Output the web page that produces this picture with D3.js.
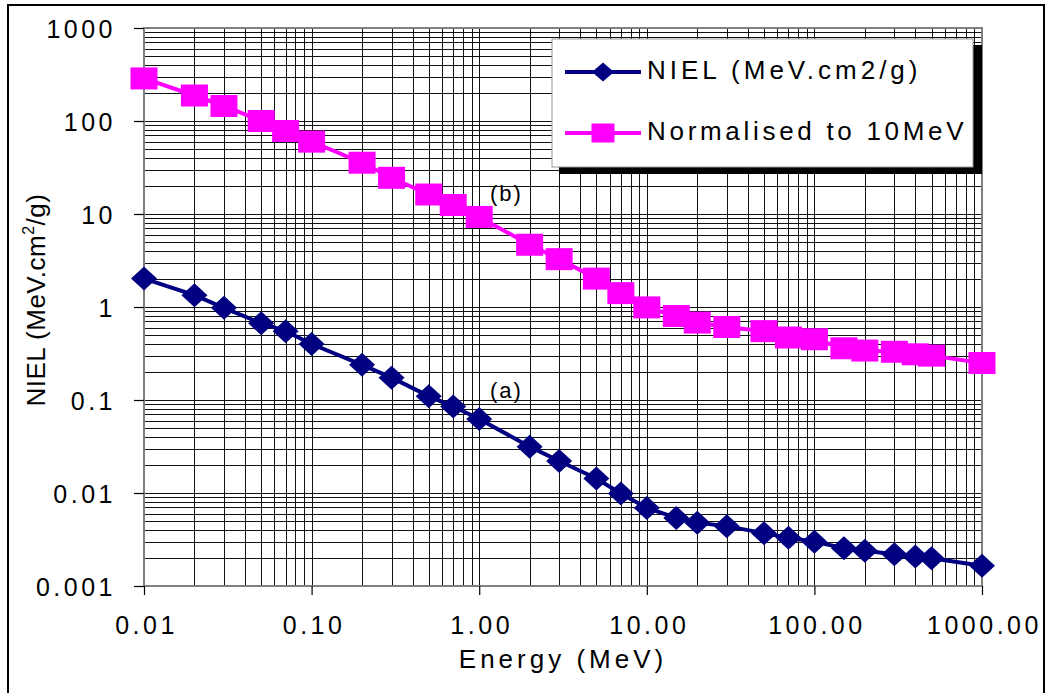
<!DOCTYPE html>
<html>
<head>
<meta charset="utf-8">
<script src="https://cdn.jsdelivr.net/npm/d3@7"></script>
<style>
  html, body { margin: 0; padding: 0; background: #fff; }
  svg { display: block; font-family: "Liberation Sans", Arial, sans-serif; }
</style>
</head>
<body>
<svg id="chart" width="1049" height="693"></svg>
<script>
// ---- data ----
const energy = [0.01, 0.02, 0.03, 0.05, 0.07, 0.1, 0.2, 0.3, 0.5, 0.7, 1, 2, 3, 5, 7, 10, 15, 20, 30, 50, 70, 100, 150, 200, 300, 400, 500, 1000];
const niel = [2.02, 1.34, 0.98, 0.67, 0.55, 0.40, 0.239, 0.174, 0.110, 0.085, 0.0625, 0.0315, 0.0221, 0.0143, 0.0099, 0.0069, 0.0054, 0.0048, 0.0044, 0.0037, 0.0033, 0.0030, 0.00255, 0.0024, 0.0022, 0.00207, 0.00199, 0.00165];
const normalised = [287, 188, 145, 100, 78, 60, 35.6, 24.5, 16.2, 12.5, 9.3, 4.67, 3.27, 2.02, 1.41, 0.99, 0.80, 0.68, 0.61, 0.55, 0.47, 0.45, 0.36, 0.34, 0.33, 0.31, 0.30, 0.25];
const seriesNames = ["NIEL (MeV.cm2/g)", "Normalised to 10MeV"];
const xTickValues = [0.01, 0.1, 1, 10, 100, 1000];
const xTickLabels = ["0.01", "0.10", "1.00", "10.00", "100.00", "1000.00"];
const yTickValues = [0.001, 0.01, 0.1, 1, 10, 100, 1000];
const yTickLabels = ["0.001", "0.01", "0.1", "1", "10", "100", "1000"];
const xTitle = "Energy (MeV)";
const curveLabels = ["(a)", "(b)"];

// ---- layout ----
const svg = d3.select("#chart");
const L = 144, R = 982, T = 28, B = 586;
const x = d3.scaleLog().domain([0.01, 1000]).range([L, R]);
const y = d3.scaleLog().domain([0.001, 1000]).range([B, T]);
const NAVY = "#000080", PINK = "#FF00FF";

// outer frame
svg.append("rect").attr("x", 8).attr("y", 5).attr("width", 1036).attr("height", 700)
  .attr("fill", "none").attr("stroke", "#000").attr("stroke-width", 2);

// grid
const minor = [];
for (let e = -2; e < 3; e++) for (let k = 2; k <= 9; k++) minor.push(k * Math.pow(10, e));
const minorY = [];
for (let e = -3; e < 3; e++) for (let k = 2; k <= 9; k++) minorY.push(k * Math.pow(10, e));
const grid = svg.append("g").attr("shape-rendering", "crispEdges");
grid.selectAll(".vx").data(minor.concat(xTickValues.slice(1, -1))).enter().append("line")
  .attr("x1", d => Math.round(x(d)) + 0.5).attr("x2", d => Math.round(x(d)) + 0.5)
  .attr("y1", T).attr("y2", B).attr("stroke", "#111").attr("stroke-width", 1);
grid.selectAll(".hy").data(minorY.concat(yTickValues.slice(1, -1))).enter().append("line")
  .attr("y1", d => Math.round(y(d)) + 0.5).attr("y2", d => Math.round(y(d)) + 0.5)
  .attr("x1", L).attr("x2", R).attr("stroke", "#111").attr("stroke-width", 1);

// plot frame
svg.append("rect").attr("x", L).attr("y", T).attr("width", R - L).attr("height", B - T)
  .attr("fill", "none").attr("stroke", "#808080").attr("stroke-width", 2);

// axes
const yAxis = d3.axisLeft(y).tickValues(yTickValues).tickSize(10).tickFormat((d, i) => yTickLabels[i]);
const xAxis = d3.axisBottom(x).tickValues(xTickValues).tickSize(9).tickFormat((d, i) => xTickLabels[i]);
const gy = svg.append("g").attr("transform", `translate(${L},0)`).call(yAxis);
const gx = svg.append("g").attr("transform", `translate(0,${B})`).call(xAxis);
[gx, gy].forEach(g => {
  g.select(".domain").remove();
  g.selectAll(".tick line").attr("stroke", "#000").attr("stroke-width", 1.2);
  g.selectAll(".tick text").attr("fill", "#000").attr("font-size", 25)
    .attr("font-family", "Liberation Sans, Arial, sans-serif").attr("letter-spacing", 3.5);
});
gy.selectAll(".tick text").attr("x", -28).attr("dy", "0.36em");
gx.selectAll(".tick text").attr("y", 48).attr("dy", 0).attr("dx", 2);

// axis titles
svg.append("text").attr("x", 563).attr("y", 668).attr("text-anchor", "middle")
  .attr("font-size", 26).attr("letter-spacing", 4).attr("fill", "#000").text(xTitle);
const yt = svg.append("text").attr("transform", "translate(45,300) rotate(-90)")
  .attr("text-anchor", "middle").attr("font-size", 26).attr("letter-spacing", 0.5).attr("fill", "#000");
yt.append("tspan").text("NIEL (MeV.cm");
yt.append("tspan").attr("font-size", 16).attr("dy", -11).text("2");
yt.append("tspan").attr("dy", 11).text("/g)");

// series
const line = d3.line().x(d => x(d[0])).y(d => y(d[1]));
const d1 = energy.map((e, i) => [e, niel[i]]);
const d2 = energy.map((e, i) => [e, normalised[i]]);
svg.append("path").datum(d1).attr("d", line).attr("fill", "none").attr("stroke", NAVY).attr("stroke-width", 4);
svg.append("path").datum(d2).attr("d", line).attr("fill", "none").attr("stroke", PINK).attr("stroke-width", 4);

const diamond = (w, h) => `M0,${-h/2}L${w/2},0L0,${h/2}L${-w/2},0Z`;
svg.append("g").selectAll("path").data(d1).enter().append("path")
  .attr("transform", d => `translate(${x(d[0])},${y(d[1])})`)
  .attr("d", diamond(26, 24)).attr("fill", NAVY);
svg.append("g").selectAll("rect").data(d2).enter().append("rect")
  .attr("x", d => x(d[0]) - 13.5).attr("y", d => y(d[1]) - 11)
  .attr("width", 27).attr("height", 22).attr("fill", PINK);

// curve labels
svg.append("text").attr("x", 490).attr("y", 398).attr("font-size", 22).attr("letter-spacing", 2).text(curveLabels[0]);
svg.append("text").attr("x", 490).attr("y", 201).attr("font-size", 22).attr("letter-spacing", 2).text(curveLabels[1]);

// legend
const lg = svg.append("g");
lg.append("rect").attr("x", 559).attr("y", 45).attr("width", 423).attr("height", 129).attr("fill", "#000");
lg.append("rect").attr("x", 552).attr("y", 39).attr("width", 421).attr("height", 128)
  .attr("fill", "#fff").attr("stroke", "#999").attr("stroke-width", 1);
const ly = [72, 133];
lg.append("line").attr("x1", 565).attr("x2", 641).attr("y1", ly[0]).attr("y2", ly[0]).attr("stroke", NAVY).attr("stroke-width", 4);
lg.append("path").attr("transform", `translate(603,${ly[0]})`).attr("d", diamond(22, 19)).attr("fill", NAVY);
lg.append("line").attr("x1", 565).attr("x2", 641).attr("y1", ly[1]).attr("y2", ly[1]).attr("stroke", PINK).attr("stroke-width", 4);
lg.append("rect").attr("x", 603 - 11.5).attr("y", ly[1] - 9.5).attr("width", 23).attr("height", 19).attr("fill", PINK);
lg.append("text").attr("x", 647).attr("y", 79).attr("font-size", 26).attr("letter-spacing", 4).text(seriesNames[0]);
lg.append("text").attr("x", 647).attr("y", 140).attr("font-size", 26).attr("letter-spacing", 3.7).text(seriesNames[1]);
</script>
</body>
</html>
